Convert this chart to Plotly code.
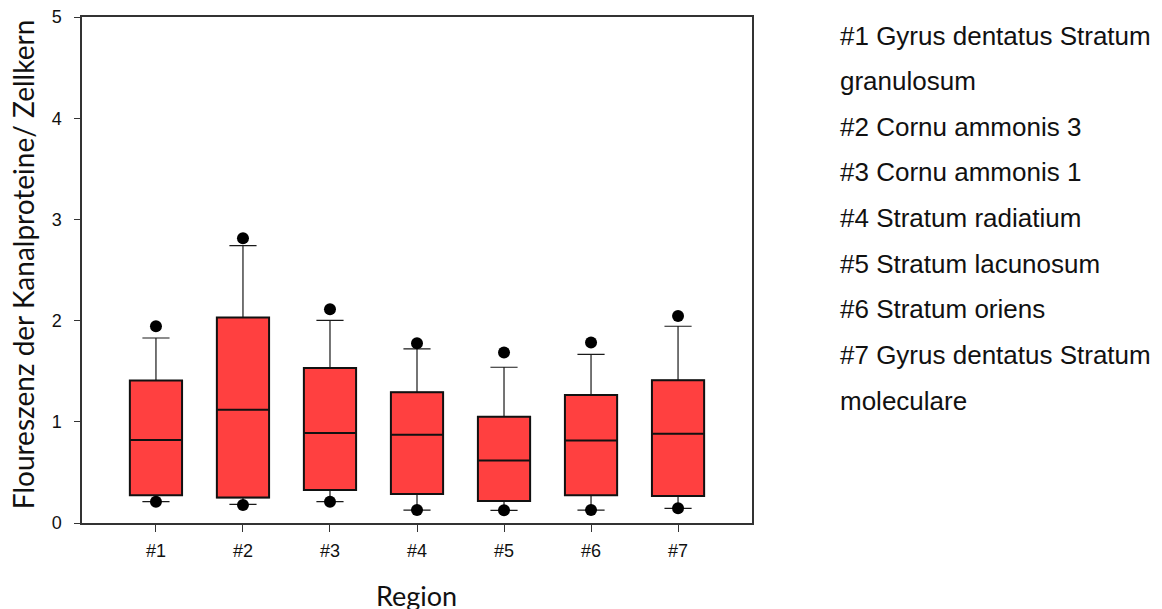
import plotly.graph_objects as go

# ---- data ----
regions = ["#1", "#2", "#3", "#4", "#5", "#6", "#7"]
positions = [1, 2, 3, 4, 5, 6, 7]
q1 = [0.274, 0.251, 0.326, 0.287, 0.218, 0.274, 0.267]
median = [0.820, 1.120, 0.889, 0.873, 0.617, 0.814, 0.883]
q3 = [1.407, 2.030, 1.532, 1.292, 1.051, 1.265, 1.410]
whisker_low = [0.211, 0.185, 0.211, 0.128, 0.125, 0.128, 0.145]
whisker_high = [1.828, 2.741, 2.003, 1.720, 1.539, 1.667, 1.944]
outlier_low = [0.211, 0.178, 0.211, 0.128, 0.125, 0.128, 0.145]
outlier_high = [1.944, 2.813, 2.112, 1.776, 1.684, 1.783, 2.045]

legend_lines = [
    "#1 Gyrus dentatus Stratum",
    "granulosum",
    "#2 Cornu ammonis 3",
    "#3 Cornu ammonis 1",
    "#4 Stratum radiatium",
    "#5 Stratum lacunosum",
    "#6 Stratum oriens",
    "#7 Gyrus dentatus Stratum",
    "moleculare",
]
y_title = "Floureszenz der Kanalproteine/ Zellkern"
x_title = "Region"

RED = "#FF4040"

fig = go.Figure()

# whiskers (thin)
fig.add_trace(go.Box(
    x=positions, q1=q1, median=median, q3=q3,
    lowerfence=whisker_low, upperfence=whisker_high,
    width=0.6, whiskerwidth=0.52,
    fillcolor=RED, line=dict(color="#1a1a1a", width=1.2),
    boxpoints=False, showlegend=False, hoverinfo="skip",
))
# box body (thicker outline)
fig.add_trace(go.Box(
    x=positions, q1=q1, median=median, q3=q3,
    lowerfence=q1, upperfence=q3,
    width=0.6, whiskerwidth=0,
    fillcolor=RED, line=dict(color="#111111", width=2),
    boxpoints=False, showlegend=False, hoverinfo="skip",
))
# outlier dots (5th / 95th percentiles)
fig.add_trace(go.Scatter(
    x=positions + positions, y=outlier_low + outlier_high,
    mode="markers", marker=dict(color="black", size=12),
    showlegend=False, hoverinfo="skip",
))

fig.update_layout(
    width=1154, height=601,
    margin=dict(l=74, r=410, t=9, b=86),
    paper_bgcolor="white", plot_bgcolor="white",
    font=dict(family="Liberation Sans, Arial, sans-serif", color="#111111"),
    boxmode="overlay",
)
fig.update_xaxes(
    range=[0.15, 7.85], tickvals=positions, ticktext=regions,
    ticks="outside", ticklen=7, tickwidth=1.2, tickcolor="#333333",
    showline=True, linecolor="#333333", linewidth=1.5, mirror=True,
    showgrid=False, zeroline=False, automargin=False,
    tickfont=dict(size=18, family="Liberation Sans, Arial, sans-serif"),
    ticklabelstandoff=4, ticklabeloverflow="allow",
)
fig.update_yaxes(
    range=[0, 5], tickvals=[0, 1, 2, 3, 4, 5],
    ticks="outside", ticklen=6, tickwidth=1.2, tickcolor="#333333",
    showline=True, linecolor="#333333", linewidth=1.5, mirror=True,
    showgrid=False, zeroline=False, automargin=False,
    tickfont=dict(size=18, family="Liberation Sans, Arial, sans-serif"),
    ticklabelstandoff=9, ticklabeloverflow="allow",
)

# axis titles
fig.add_annotation(
    text=y_title, xref="paper", yref="paper", x=-0.088, y=0.5096,
    textangle=-90, showarrow=False, xanchor="center", yanchor="middle",
    font=dict(family="Lato, Carlito, sans-serif", size=28, color="#111111"),
)
fig.add_annotation(
    text=x_title, xref="paper", yref="paper", x=(416 - 82) / 670, y=(522.7 - 595) / 505.7,
    showarrow=False, xanchor="center", yanchor="middle",
    font=dict(family="Lato, Carlito, sans-serif", size=27, color="#111111"),
)

# right-hand legend text
for i, line in enumerate(legend_lines):
    ypix = 35.5 + 45.6 * i
    fig.add_annotation(
        text=line, xref="paper", yref="paper",
        x=(838 - 82) / 670, y=(522.7 - ypix) / 505.7,
        showarrow=False, xanchor="left", yanchor="middle",
        font=dict(family="Liberation Sans, Arial, sans-serif", size=26, color="#111111"),
    )

fig.write_html("out.html")
